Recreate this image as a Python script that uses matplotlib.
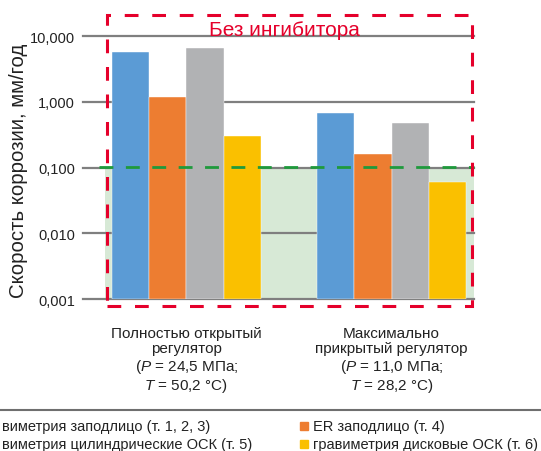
import matplotlib
matplotlib.use('Agg')
import matplotlib.pyplot as plt
import matplotlib.transforms as mtransforms
from matplotlib.patches import Rectangle
from matplotlib.lines import Line2D
from matplotlib.ticker import NullLocator, FixedLocator, FixedFormatter
import numpy as np

plt.rcParams['font.family'] = ['Liberation Sans', 'DejaVu Sans']
plt.rcParams['mathtext.fontset'] = 'custom'
plt.rcParams['mathtext.it'] = 'Liberation Sans:italic'
plt.rcParams['mathtext.rm'] = 'Liberation Sans'

# ---- data ----
group_labels = [
    'Полностью открытый\nрегулятор\n($P$ = 24,5 МПа;\n$T$ = 50,2 °C)',
    'Максимально\nприкрытый регулятор\n($P$ = 11,0 МПа;\n$T$ = 28,2 °C)',
]
series_names = ['гравиметрия заподлицо (т. 1, 2, 3)', 'ER заподлицо (т. 4)',
                'гравиметрия цилиндрические ОСК (т. 5)', 'гравиметрия дисковые ОСК (т. 6)']
flush_grav = [5.8, 0.68]
er_flush = [1.2, 0.158]
cyl_grav = [6.6, 0.485]
disk_grav = [0.30, 0.060]
series_values = [flush_grav, er_flush, cyl_grav, disk_grav]
colors = ['#5b9bd5', '#ed7d31', '#b1b2b4', '#fac000']
ytick_vals = [0.001, 0.01, 0.1, 1, 10]
ytick_labels = ['0,001', '0,010', '0,100', '1,000', '10,000']
safe_limit = 0.1
title_text = 'Без ингибитора'
ylabel_text = 'Скорость коррозии, мм/год'
legend_left = ['виметрия заподлицо (т. 1, 2, 3)', 'виметрия цилиндрические ОСК (т. 5)']
legend_right = ['ER заподлицо (т. 4)', 'гравиметрия дисковые ОСК (т. 6)']

W, H = 541, 452
fig = plt.figure(figsize=(W / 100, H / 100), dpi=100)
ax_l, ax_r, ax_t, ax_b = 83.3, 473.6, 37.3, 300.0
ax = fig.add_axes([ax_l / W, 1 - ax_b / H, (ax_r - ax_l) / W, (ax_b - ax_t) / H])
ax.set_yscale('log')
ax.set_ylim(0.001, 10)
ax.set_xlim(-2.76, 7.70)
for s in ax.spines.values():
    s.set_visible(False)

group_centers = np.array([0.0, 5.5])
offsets = np.array([-1.5, -0.5, 0.5, 1.5])
for vals, off, c in zip(series_values, offsets, colors):
    ax.bar(group_centers + off, vals, width=1.0, bottom=0.001, color=c,
           edgecolor='white', linewidth=0.3, zorder=2)

# green "safe" zone
ax.fill_between([-2.17, 7.70], 0.001, safe_limit, color='#d7e9d6', zorder=0.2, linewidth=0)
ax.hlines(safe_limit * 1.04, -2.33, 7.70, colors='#1f9a3c', linestyles=(0, (5, 4.5)),
          linewidth=2.0, zorder=4, clip_on=False)

# grid
ax.yaxis.set_major_locator(FixedLocator(ytick_vals))
ax.yaxis.set_major_formatter(FixedFormatter(ytick_labels))
ax.yaxis.set_minor_locator(NullLocator())
ax.set_xticks([])
ax.tick_params(axis='y', length=0, pad=6, labelsize=10.5)
for lab in ax.get_yticklabels():
    lab.set_color('#222222')
ax.yaxis.grid(True, color='#7f7f7f', linewidth=1.6, zorder=1)
ax.set_axisbelow(True)
for gl in ax.get_ygridlines():
    gl.set_clip_on(False)

# red dashed box and title
x0 = (106.7 - ax_l) / (ax_r - ax_l)
x1 = (471.9 - ax_l) / (ax_r - ax_l)
y0 = (ax_b - 306.7) / (ax_b - ax_t)
y1 = (ax_b - 16.0) / (ax_b - ax_t)
ax.add_patch(Rectangle((x0, y0), x1 - x0, y1 - y0, transform=ax.transAxes, fill=False,
                       edgecolor='#e5002b', linewidth=2.2, linestyle=(0, (4.5, 4.5)),
                       clip_on=False, zorder=5))
ax.text((284.8 - ax_l) / (ax_r - ax_l), (ax_b - 30.5) / (ax_b - ax_t), title_text,
        transform=ax.transAxes, ha='center', va='center', color='#e5002b', fontsize=15,
        zorder=6)

# y label
fig.text(18.5 / W, 1 - 171 / H, ylabel_text, rotation=90, ha='center', va='center',
         fontsize=14.7, color='#222222')

# group labels
trans = mtransforms.blended_transform_factory(ax.transData, ax.transAxes)
for gc, lab in zip(group_centers, group_labels):
    ax.text(gc, (ax_b - 327) / (ax_b - ax_t), lab, transform=trans, ha='center', va='top',
            fontsize=11, linespacing=1.12, color='#222222')

# separator
fig.add_artist(Line2D([0, 1], [1 - 411 / H] * 2, transform=fig.transFigure,
                      color='#6f6f6f', linewidth=1.5))

# legend
rows_y = [427.3, 445.0]
for ty, txt in zip(rows_y, legend_left):
    fig.text(1.7 / W, 1 - ty / H, txt, ha='left', va='center', fontsize=10.5, color='#222222')
for ty, txt, c in zip(rows_y, legend_right, [colors[1], colors[3]]):
    fig.add_artist(Rectangle((300 / W, 1 - (ty + 4) / H), 8 / W, 8 / H,
                             transform=fig.transFigure, color=c))
    fig.text(313.3 / W, 1 - ty / H, txt, ha='left', va='center', fontsize=10.5, color='#222222')

fig.savefig('out.png', dpi=100)
